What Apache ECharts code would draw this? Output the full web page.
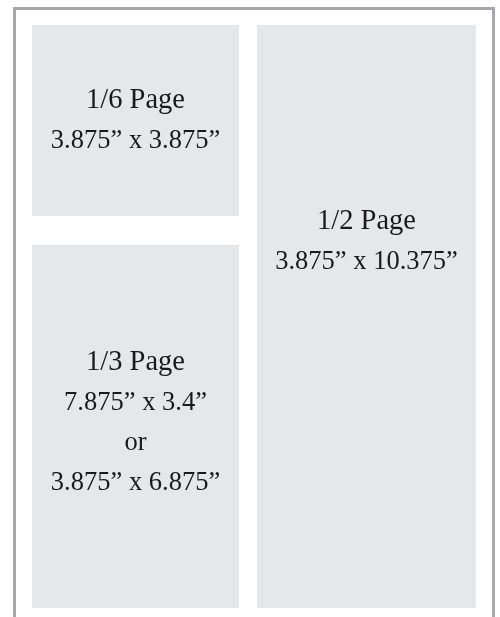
<!DOCTYPE html>
<html>
<head>
<meta charset="utf-8">
<script src="https://cdn.jsdelivr.net/npm/echarts@6/dist/echarts.min.js"></script>
<style>
html,body{margin:0;padding:0;background:#ffffff;}
#chart{width:500px;height:617px;}
</style>
</head>
<body>
<div id="chart"></div>
<script>
// Ad sizes (categories) and their dimension text lines
const adNames = ['1/6 Page', '1/3 Page', '1/2 Page'];
const adDims = [
  ['3.875\u201D x 3.875\u201D'],
  ['7.875\u201D x 3.4\u201D', 'or', '3.875\u201D x 6.875\u201D'],
  ['3.875\u201D x 10.375\u201D']
];

// Layout of each ad block on the page sheet (sheet units)
const blockLeft   = [32, 32, 257];
const blockRight  = [239, 239, 476];
const blockTop    = [25, 245, 25];
const blockBottom = [216, 608, 608];
const labelCenter = [121, 423, 242];

const chart = echarts.init(document.getElementById('chart'), null, {renderer: 'canvas'});

const data = adNames.map((n, i) => [blockLeft[i], blockRight[i], blockTop[i], blockBottom[i], labelCenter[i], i]);

const FONT = '"Liberation Serif", "Times New Roman", Times, serif';

const option = {
  animation: false,
  backgroundColor: '#ffffff',
  grid: {left: 0, right: 0, top: 0, bottom: 0},
  xAxis: {type: 'value', min: 0, max: 500, show: false},
  yAxis: {type: 'value', min: 0, max: 617, inverse: true, show: false},
  graphic: [{
    type: 'polyline',
    shape: {points: [[14.5, 617], [14.5, 8.5], [493.5, 8.5], [493.5, 617]]},
    style: {stroke: '#a8a8ab', lineWidth: 3, fill: null},
    z: 10
  }],
  series: [{
    type: 'custom',
    coordinateSystem: 'cartesian2d',
    encode: {x: [0, 1], y: [2, 3]},
    data: data,
    renderItem: function (params, api) {
      const i = api.value(5);
      const p0 = api.coord([api.value(0), api.value(2)]);
      const p1 = api.coord([api.value(1), api.value(3)]);
      const cx = (p0[0] + p1[0]) / 2;
      const cy = api.coord([0, api.value(4)])[1];
      const lines = [{t: adNames[i], size: 28.5}].concat(adDims[i].map(t => ({t: t, size: 26.5})));
      const n = lines.length;
      const children = [{
        type: 'rect',
        shape: {x: p0[0], y: p0[1], width: p1[0] - p0[0], height: p1[1] - p0[1]},
        style: {fill: '#e6e7e9'}
      }];
      lines.forEach((ln, k) => {
        children.push({
          type: 'text',
          style: {
            text: ln.t,
            x: cx,
            y: cy + (k - (n - 1) / 2) * 40,
            align: 'center',
            verticalAlign: 'middle',
            font: ln.size + 'px ' + FONT,
            fill: '#1a1a1a'
          }
        });
      });
      return {type: 'group', children: children};
    }
  }]
};
chart.setOption(option);
</script>
</body>
</html>
